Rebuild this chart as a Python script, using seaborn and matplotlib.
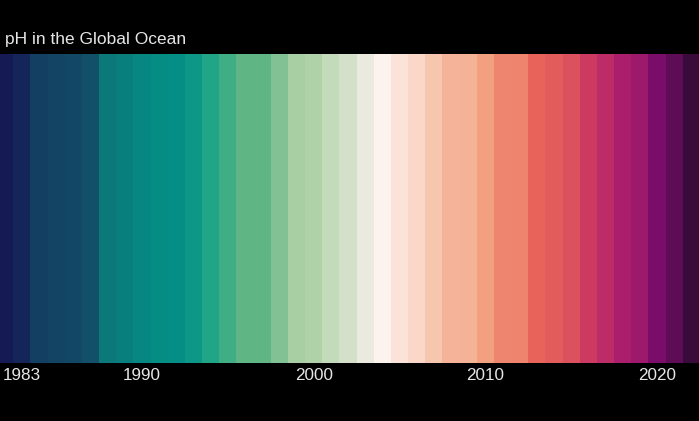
import matplotlib as mpl
import matplotlib.pyplot as plt
from matplotlib.colors import LinearSegmentedColormap
import numpy as np
import pandas as pd
import seaborn as sns

# yearly surface pH of the global ocean
years = list(range(1982, 2023))
ph = [8.1100, 8.1087, 8.1061, 8.1045, 8.1032, 8.1012, 8.0990, 8.0977, 8.0960, 8.0944,
      8.0941, 8.0925, 8.0902, 8.0882, 8.0866, 8.0865, 8.0847, 8.0827, 8.0821, 8.0808,
      8.0795, 8.0785, 8.0775, 8.0762, 8.0752, 8.0736, 8.0717, 8.0716, 8.0697, 8.0674,
      8.0671, 8.0645, 8.0635, 8.0622, 8.0593, 8.0567, 8.0541, 8.0531, 8.0502, 8.0483,
      8.0450]
tick_years = [1983, 1990, 2000, 2010, 2020]
title = 'pH in the Global Ocean'

# curl-like colour scale, high pH (navy) -> low pH (dark purple)
curl_like = [(0.00, '#151a55'), (0.06, '#134062'), (0.14, '#12506a'), (0.17, '#0b7a7a'),
             (0.25, '#049086'), (0.31, '#24a886'), (0.36, '#5fb584'), (0.42, '#a8cfa3'),
             (0.47, '#d4e0c9'), (0.50, '#fff3f1'), (0.56, '#f7c6af'), (0.62, '#f2a080'),
             (0.70, '#e9655a'), (0.78, '#cc3a62'), (0.86, '#ac1f6c'), (0.92, '#7a0d6a'),
             (1.00, '#380b3b')]
cmap = LinearSegmentedColormap.from_list('ph_curl', curl_like).reversed()

df = pd.DataFrame({'year': years, 'ph': ph, 'stripe': 1.0})

sns.set_theme(style='white')
plt.rcParams['font.family'] = ['Liberation Sans', 'DejaVu Sans']
text_col = '#e6e6e6'

fig = plt.figure(figsize=(6.99, 4.21), dpi=100, facecolor='black')
ax = fig.add_axes([0, 1 - 362.7 / 421, 1, (362.7 - 53.5) / 421])
ax.set_facecolor('black')

sns.barplot(data=df, x='year', y='stripe', hue='ph', palette=cmap,
            hue_norm=(min(ph), max(ph)), native_scale=True, width=1, dodge=False,
            legend=False, saturation=1, errorbar=None, linewidth=0, ax=ax)

ax.set_xlim(1981.725, 2022.45)
ax.set_ylim(0, 1)
ax.set_xticks(tick_years)
ax.set_xticklabels([str(y) for y in tick_years])
ax.tick_params(axis='x', length=0, pad=3.5, labelsize=12.3, colors=text_col)
ax.set_yticks([])
ax.set_xlabel('')
ax.set_ylabel('')
for s in ax.spines.values():
    s.set_visible(False)

fig.text(5 / 699, 1 - 44 / 421, title, color=text_col, fontsize=12.5,
         ha='left', va='baseline')

fig.savefig('out.png', dpi=100, facecolor='black')
